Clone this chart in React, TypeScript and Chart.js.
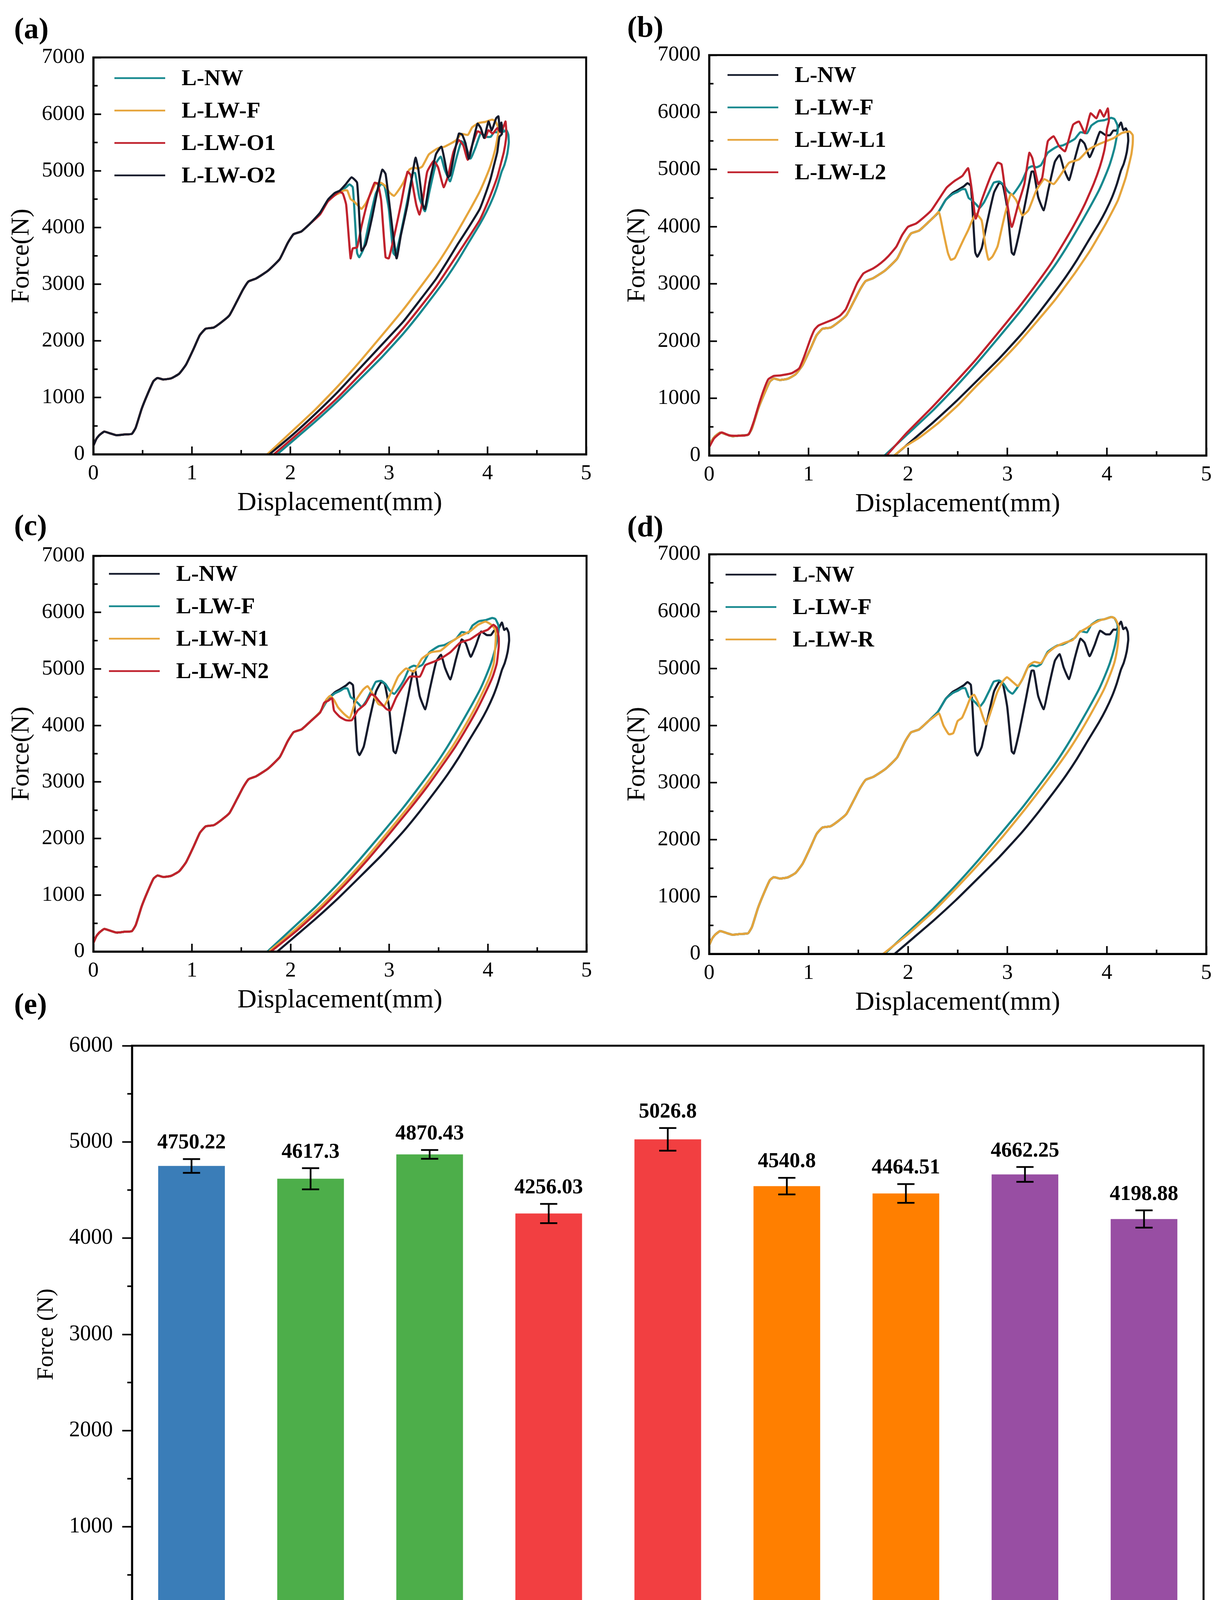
import { useEffect, useRef } from "react";
import { Chart, registerables } from "chart.js";

Chart.register(...registerables);

const SERIF = "'Liberation Serif', 'Times New Roman', serif";
const TEAL = "#17898f";
const GOLD = "#e6a53c";
const RED = "#c0222d";
const NAVY = "#151b2c";

type Pt = [number, number];

// loading branch shared by every specimen (curves overlap up to ~2.2 mm)
const LOAD_BASE: Pt[] = [
  [0, 150], [0.03, 270], [0.06, 336], [0.11, 400], [0.16, 375], [0.235, 336],
  [0.315, 350], [0.39, 360], [0.43, 470], [0.49, 800], [0.55, 1060], [0.61, 1290],
  [0.65, 1345], [0.71, 1320], [0.79, 1340], [0.87, 1420], [0.94, 1580], [1.02, 1870],
  [1.08, 2100], [1.14, 2215], [1.22, 2235], [1.3, 2330], [1.38, 2450], [1.46, 2710],
  [1.52, 2910], [1.575, 3050], [1.65, 3100], [1.77, 3235], [1.89, 3440], [1.97, 3720],
  [2.03, 3880], [2.11, 3930], [2.2, 4070],
];

const NW_TAIL: Pt[] = [
  [2.3, 4240], [2.38, 4470], [2.45, 4590], [2.5, 4640], [2.565, 4711], [2.598, 4760],
  [2.632, 4711], [2.655, 4120], [2.676, 3553], [2.698, 3476], [2.742, 3630], [2.798, 4094],
  [2.865, 4596], [2.92, 4770], [2.954, 4730], [2.998, 4325], [3.043, 3553], [3.065, 3510],
  [3.12, 3900], [3.187, 4480], [3.242, 4960], [3.265, 4960], [3.309, 4519], [3.365, 4287],
  [3.41, 4634], [3.476, 5130], [3.525, 5250], [3.565, 5020], [3.62, 4815], [3.676, 5175],
  [3.734, 5520], [3.776, 5450], [3.826, 5215], [3.876, 5406], [3.931, 5660], [3.987, 5600],
  [4.031, 5600], [4.065, 5680], [4.098, 5680], [4.142, 5820], [4.165, 5690], [4.19, 5720],
  [4.21, 5640],
];
const NW_UNLOAD: Pt[] = [
  [4.215, 5500], [4.2, 5300], [4.17, 5100], [4.142, 4982], [4.1, 4740], [4.053, 4518],
  [3.99, 4280], [3.92, 4055], [3.81, 3740], [3.7, 3420], [3.59, 3130], [3.476, 2858],
  [3.31, 2480], [3.143, 2125], [2.92, 1700], [2.698, 1314], [2.48, 940], [2.254, 580],
  [2.06, 290], [1.865, 0],
];

const F_TAIL: Pt[] = [
  [2.3, 4240], [2.38, 4470], [2.45, 4570], [2.5, 4610], [2.543, 4654], [2.576, 4654],
  [2.61, 4501], [2.642, 4462], [2.687, 4386], [2.72, 4328], [2.764, 4424], [2.819, 4616],
  [2.863, 4769], [2.918, 4789], [2.962, 4731], [3.006, 4616], [3.05, 4558], [3.095, 4654],
  [3.15, 4808], [3.205, 5019], [3.249, 5057], [3.293, 5038], [3.337, 5076], [3.403, 5287],
  [3.447, 5345], [3.503, 5403], [3.558, 5422], [3.624, 5480], [3.679, 5537], [3.734, 5652],
  [3.8, 5633], [3.844, 5767], [3.91, 5844], [3.977, 5863], [4.043, 5902], [4.076, 5882],
  [4.105, 5780],
];
const F_UNLOAD: Pt[] = [
  [4.11, 5700], [4.098, 5560], [4.075, 5360], [4.031, 5098], [3.98, 4870], [3.92, 4634],
  [3.81, 4280], [3.698, 3939], [3.59, 3625], [3.476, 3322], [3.31, 2930], [3.143, 2549],
  [2.92, 2080], [2.698, 1623], [2.48, 1200], [2.254, 793], [2.0, 380], [1.765, 0],
];

const O1_TAIL: Pt[] = [
  [2.3, 4230], [2.38, 4460], [2.45, 4570], [2.498, 4634], [2.532, 4596], [2.565, 4403],
  [2.61, 3457], [2.632, 3630], [2.676, 3650], [2.72, 4016], [2.787, 4480], [2.854, 4789],
  [2.887, 4769], [2.92, 4480], [2.965, 3476], [2.998, 3457], [3.054, 3862], [3.12, 4403],
  [3.187, 4982], [3.22, 4924], [3.276, 4403], [3.309, 4229], [3.343, 4480], [3.387, 4982],
  [3.454, 5175], [3.498, 5059], [3.554, 4712], [3.598, 4905], [3.653, 5329], [3.709, 5542],
  [3.754, 5445], [3.798, 5194], [3.842, 5445], [3.898, 5696], [3.942, 5657], [3.975, 5580],
  [4.009, 5715], [4.053, 5657], [4.098, 5754], [4.131, 5677], [4.165, 5792], [4.182, 5870],
  [4.19, 5680],
];
const O1_UNLOAD: Pt[] = [
  [4.187, 5561], [4.165, 5330], [4.142, 5175], [4.1, 4900], [4.053, 4673], [3.99, 4400],
  [3.92, 4132], [3.81, 3830], [3.7, 3540], [3.59, 3250], [3.476, 2955], [3.31, 2580],
  [3.143, 2221], [2.92, 1790], [2.698, 1391], [2.48, 1000], [2.254, 638], [2.04, 310],
  [1.832, 0],
];

const O2_TAIL: Pt[] = [
  [2.3, 4260], [2.38, 4490], [2.45, 4610], [2.5, 4650], [2.56, 4760], [2.62, 4885],
  [2.676, 4789], [2.72, 3592], [2.765, 3708], [2.832, 4210], [2.898, 4789], [2.932, 5020],
  [2.965, 4943], [3.01, 4325], [3.076, 3457], [3.12, 3862], [3.187, 4403], [3.242, 4982],
  [3.269, 5233], [3.298, 5020], [3.343, 4403], [3.365, 4325], [3.41, 4789], [3.476, 5291],
  [3.531, 5426], [3.565, 5175], [3.598, 4885], [3.62, 4924], [3.665, 5329], [3.709, 5657],
  [3.742, 5638], [3.776, 5484], [3.81, 5213], [3.853, 5522], [3.898, 5831], [3.931, 5754],
  [3.965, 5580], [4.009, 5870], [4.042, 5715], [4.087, 5928], [4.11, 5960], [4.125, 5700],
  [4.14, 5850], [4.145, 5650],
];
const O2_UNLOAD: Pt[] = [
  [4.12, 5600], [4.098, 5329], [4.065, 5100], [4.031, 4866], [3.98, 4600], [3.92, 4325],
  [3.81, 4010], [3.698, 3708], [3.59, 3400], [3.476, 3090], [3.31, 2710], [3.143, 2337],
  [2.92, 1920], [2.698, 1507], [2.48, 1100], [2.254, 715], [2.02, 340], [1.787, 0],
];

const L1_TAIL: Pt[] = [
  [2.25, 4150], [2.31, 4256], [2.35, 3950], [2.4, 3550], [2.43, 3422], [2.47, 3450],
  [2.51, 3594], [2.56, 3780], [2.605, 3939], [2.68, 4227], [2.74, 4112], [2.775, 3700],
  [2.81, 3422], [2.85, 3480], [2.9, 3652], [2.94, 3950], [2.977, 4227], [3.035, 4572],
  [3.09, 4457], [3.15, 4198], [3.21, 4284], [3.29, 4630], [3.37, 4831], [3.465, 4745],
  [3.54, 4917], [3.62, 5118], [3.72, 5176], [3.816, 5348], [3.91, 5435], [3.99, 5492],
  [4.07, 5550], [4.15, 5636], [4.227, 5665], [4.26, 5600],
];
const L1_UNLOAD: Pt[] = [
  [4.26, 5450], [4.246, 5262], [4.19, 4860], [4.11, 4457], [3.99, 4054], [3.836, 3594],
  [3.68, 3192], [3.484, 2732], [3.29, 2329], [3.09, 1927], [2.9, 1582], [2.7, 1236],
  [2.51, 891], [2.31, 575], [2.117, 316], [1.96, 144], [1.863, 0],
];

// L-LW-L2 sits a little above the others from the start
const L2_LOAD: Pt[] = [
  [0, 144], [0.05, 300], [0.125, 403], [0.2, 350], [0.28, 345], [0.36, 350], [0.4, 374],
  [0.45, 600], [0.5, 891], [0.55, 1150], [0.594, 1330], [0.65, 1390], [0.72, 1400],
  [0.83, 1438], [0.906, 1524], [0.96, 1750], [1.02, 2042], [1.06, 2200], [1.1, 2272],
  [1.18, 2330], [1.258, 2387], [1.32, 2450], [1.375, 2559], [1.43, 2780], [1.49, 3019],
  [1.55, 3180], [1.59, 3221], [1.65, 3270], [1.727, 3364], [1.8, 3480], [1.883, 3652],
  [1.94, 3850], [2.0, 3997], [2.08, 4054], [2.15, 4150], [2.234, 4284], [2.31, 4480],
  [2.39, 4687], [2.47, 4802], [2.547, 4888], [2.605, 5021],
];
const L2_TAIL: Pt[] = [
  [2.645, 4600], [2.68, 4141], [2.74, 4457], [2.84, 4917], [2.9, 5118], [2.94, 5090],
  [2.98, 4600], [3.043, 3997], [3.11, 4400], [3.17, 4745], [3.22, 5291], [3.25, 5200],
  [3.31, 4745], [3.35, 4860], [3.406, 5492], [3.465, 5579], [3.52, 5406], [3.58, 5320],
  [3.66, 5780], [3.72, 5837], [3.78, 5636], [3.836, 5981], [3.895, 5895], [3.93, 6039],
  [3.97, 5924], [4.01, 6067], [4.02, 5850],
];
const L2_UNLOAD: Pt[] = [
  [4.0, 5700], [3.99, 5500], [3.97, 5300], [3.93, 5050], [3.87, 4760], [3.78, 4400],
  [3.67, 4030], [3.56, 3700], [3.44, 3360], [3.28, 2970], [3.11, 2580], [2.89, 2110],
  [2.67, 1650], [2.45, 1230], [2.23, 820], [1.99, 400], [1.785, 0],
];

const N1_TAIL: Pt[] = [
  [2.3, 4240], [2.36, 4450], [2.4, 4522], [2.44, 4450], [2.48, 4322], [2.54, 4207],
  [2.6, 4130], [2.66, 4436], [2.736, 4636], [2.78, 4694], [2.835, 4551], [2.89, 4379],
  [2.95, 4350], [3.01, 4551], [3.09, 4865], [3.17, 5008], [3.25, 4951], [3.33, 5180],
  [3.425, 5295], [3.52, 5323], [3.62, 5466], [3.72, 5581], [3.82, 5667], [3.9, 5781],
  [3.976, 5838], [4.035, 5781], [4.075, 5695],
];
const N1_UNLOAD: Pt[] = [
  [4.08, 5550], [4.075, 5400], [4.06, 5098], [4.02, 4870], [3.96, 4634], [3.86, 4280],
  [3.75, 3939], [3.64, 3625], [3.52, 3322], [3.36, 2930], [3.19, 2549], [2.97, 2080],
  [2.75, 1623], [2.53, 1200], [2.3, 793], [2.04, 380], [1.78, 0],
];

const N2_TAIL: Pt[] = [
  [2.3, 4230], [2.34, 4400], [2.38, 4436], [2.42, 4480], [2.44, 4265], [2.5, 4150],
  [2.56, 4093], [2.62, 4093], [2.68, 4265], [2.756, 4379], [2.815, 4551], [2.854, 4522],
  [2.894, 4436], [2.97, 4293], [3.01, 4265], [3.07, 4494], [3.15, 4722], [3.21, 4865],
  [3.31, 4865], [3.366, 5066], [3.445, 5123], [3.52, 5180], [3.62, 5295], [3.72, 5466],
  [3.82, 5524], [3.92, 5638], [4.0, 5695], [4.055, 5781], [4.09, 5724],
];
const N2_UNLOAD: Pt[] = [
  [4.11, 5550], [4.11, 5400], [4.09, 5098], [4.05, 4870], [3.99, 4634], [3.89, 4280],
  [3.78, 3939], [3.67, 3625], [3.55, 3322], [3.39, 2930], [3.22, 2549], [3.0, 2080],
  [2.78, 1623], [2.56, 1200], [2.33, 793], [2.07, 380], [1.8, 0],
];

const R_TAIL: Pt[] = [
  [2.26, 4150], [2.312, 4213], [2.356, 4002], [2.411, 3848], [2.455, 3868], [2.499, 4079],
  [2.543, 4136], [2.587, 4309], [2.632, 4501], [2.665, 4539], [2.709, 4386], [2.753, 4155],
  [2.786, 4021], [2.83, 4232], [2.896, 4578], [2.951, 4769], [2.995, 4846], [3.05, 4769],
  [3.106, 4693], [3.161, 4846], [3.216, 5057], [3.271, 5115], [3.337, 5096], [3.403, 5268],
  [3.47, 5364], [3.536, 5422], [3.591, 5460], [3.657, 5499], [3.723, 5633], [3.8, 5710],
  [3.866, 5786], [3.933, 5844], [3.999, 5875], [4.054, 5902], [4.087, 5863], [4.12, 5729],
];
const R_UNLOAD: Pt[] = [
  [4.115, 5500], [4.1, 5300], [4.075, 5100], [4.03, 4880], [3.97, 4630], [3.86, 4270],
  [3.745, 3920], [3.63, 3600], [3.51, 3300], [3.34, 2900], [3.17, 2520], [2.95, 2050],
  [2.72, 1590], [2.5, 1180], [2.27, 770], [2.01, 360], [1.75, 0],
];

const L_NW = [...LOAD_BASE, ...NW_TAIL, ...NW_UNLOAD];
const L_LW_F = [...LOAD_BASE, ...F_TAIL, ...F_UNLOAD];
const L_LW_O1 = [...LOAD_BASE, ...O1_TAIL, ...O1_UNLOAD];
const L_LW_O2 = [...LOAD_BASE, ...O2_TAIL, ...O2_UNLOAD];
const L_LW_L1 = [...LOAD_BASE, ...L1_TAIL, ...L1_UNLOAD];
const L_LW_L2 = [...L2_LOAD, ...L2_TAIL, ...L2_UNLOAD];
const L_LW_N1 = [...LOAD_BASE, ...N1_TAIL, ...N1_UNLOAD];
const L_LW_N2 = [...LOAD_BASE, ...N2_TAIL, ...N2_UNLOAD];
const L_LW_R = [...LOAD_BASE, ...R_TAIL, ...R_UNLOAD];

// panel (e)
const BAR_LABELS = ["L-NW", "L-LW-O1", "L-LW-O2", "L-LW-L1", "L-LW-L2", "L-LW-N1", "L-LW-N2", "L-LW-F", "L-LW-R"];
const BAR_MEANS = [4750.22, 4617.3, 4870.43, 4256.03, 5026.8, 4540.8, 4464.51, 4662.25, 4198.88];
const BAR_ERRORS = [72, 110, 46, 100, 118, 86, 97, 77, 90];
const BAR_COLORS = ["#3a7db8", "#4dae4a", "#4dae4a", "#f23f41", "#f23f41", "#ff7f00", "#ff7f00", "#984ea3", "#984ea3"];

interface Series {
  label: string;
  color: string;
  points: Pt[];
}
interface Box {
  l: number;
  t: number;
  r: number;
  b: number;
}
interface LegendPos {
  left: number;
  top: number;
}

// room around the plot box; Chart.js reserves tick padding + half a label at the ends
const Y_AXIS_W = 240;
const X_AXIS_H = 170;
const PAD_T = 80;
const PAD_R = 55;

const plainNumber = (v: any) => String(v);

// closes the plot box (top + right edges)
const framePlugin = {
  id: "frame",
  afterDraw(chart: any, _args: any, opts: any) {
    const { ctx, chartArea: a } = chart;
    ctx.save();
    ctx.strokeStyle = "#000";
    ctx.lineWidth = opts.width ?? 5;
    ctx.strokeRect(a.left, a.top, a.right - a.left, a.bottom - a.top);
    ctx.restore();
  },
};

// short ticks halfway between the major ones
const minorTicksPlugin = {
  id: "minorTicks",
  afterDraw(chart: any, _args: any, opts: any) {
    const { ctx, chartArea: a, scales } = chart;
    const dir = opts.inward ? -1 : 1;
    const xs = scales.x;
    const ys = scales.y;
    const xMarks: number[] = [];
    if (xs.type === "category") {
      const half = (xs.getPixelForValue(1) - xs.getPixelForValue(0)) / 2;
      for (let i = 0; i <= xs.ticks.length; i++) {
        xMarks.push(xs.getPixelForValue(0) - half + i * 2 * half);
      }
    } else {
      for (let i = 0; i < xs.ticks.length - 1; i++) {
        xMarks.push(xs.getPixelForValue((xs.ticks[i].value + xs.ticks[i + 1].value) / 2));
      }
    }
    ctx.save();
    ctx.strokeStyle = "#000";
    ctx.lineWidth = 4;
    ctx.beginPath();
    xMarks.forEach((px) => {
      ctx.moveTo(px, a.bottom);
      ctx.lineTo(px, a.bottom + dir * opts.x);
    });
    for (let i = 0; i < ys.ticks.length - 1; i++) {
      const py = ys.getPixelForValue((ys.ticks[i].value + ys.ticks[i + 1].value) / 2);
      ctx.moveTo(a.left, py);
      ctx.lineTo(a.left - dir * opts.y, py);
    }
    ctx.stroke();
    ctx.restore();
  },
};

// legend drawn inside the plot, top-left, like the Origin export
const insetLegendPlugin = {
  id: "insetLegend",
  afterDraw(chart: any, _args: any, opts: any) {
    const { ctx, chartArea: a } = chart;
    ctx.save();
    ctx.font = `bold 58px ${SERIF}`;
    ctx.textAlign = "left";
    ctx.textBaseline = "middle";
    chart.data.datasets.forEach((ds: any, i: number) => {
      const y = a.top + opts.top + i * 83;
      const x0 = a.left + opts.left;
      ctx.strokeStyle = ds.borderColor;
      ctx.lineWidth = 4.5;
      ctx.beginPath();
      ctx.moveTo(x0, y);
      ctx.lineTo(x0 + 130, y);
      ctx.stroke();
      ctx.fillStyle = "#000";
      ctx.fillText(ds.label, x0 + 172, y + 3);
    });
    ctx.restore();
  },
};

// error bars and value labels for panel (e)
const barAnnotationPlugin = {
  id: "barAnnotations",
  afterDatasetsDraw(chart: any) {
    const { ctx } = chart;
    const y = chart.scales.y;
    const meta = chart.getDatasetMeta(0);
    ctx.save();
    meta.data.forEach((bar: any, i: number) => {
      const hi = y.getPixelForValue(BAR_MEANS[i] + BAR_ERRORS[i]);
      const lo = y.getPixelForValue(BAR_MEANS[i] - BAR_ERRORS[i]);
      ctx.strokeStyle = "#000";
      ctx.lineWidth = 4.5;
      ctx.beginPath();
      ctx.moveTo(bar.x, hi);
      ctx.lineTo(bar.x, lo);
      ctx.moveTo(bar.x - 22, hi);
      ctx.lineTo(bar.x + 22, hi);
      ctx.moveTo(bar.x - 22, lo);
      ctx.lineTo(bar.x + 22, lo);
      ctx.stroke();
      ctx.fillStyle = "#000";
      ctx.font = `bold 54px ${SERIF}`;
      ctx.textAlign = "center";
      ctx.textBaseline = "alphabetic";
      ctx.fillText(String(BAR_MEANS[i]), bar.x, hi - 27);
    });
    ctx.restore();
  },
};

function lineConfig(series: Series[], legend: LegendPos) {
  const n = series.length;
  return {
    type: "line",
    data: {
      datasets: series.map((s, i) => ({
        label: s.label,
        data: s.points.map(([x, y]) => ({ x, y })),
        borderColor: s.color,
        backgroundColor: s.color,
        borderWidth: 5.5,
        pointRadius: 0,
        pointHoverRadius: 0,
        tension: 0.15,
        fill: false,
        // later specimens are drawn on top, as in the original plots
        order: n - 1 - i,
      })),
    },
    options: {
      responsive: false,
      animation: false,
      layout: { padding: { top: PAD_T, right: PAD_R, left: 0, bottom: 0 } },
      plugins: {
        legend: { display: false },
        tooltip: { enabled: false },
        frame: { width: 5 },
        minorTicks: { inward: true, x: 11, y: 11 },
        insetLegend: legend,
      },
      scales: {
        x: {
          type: "linear",
          min: 0,
          max: 5,
          ticks: {
            stepSize: 1,
            color: "#000",
            padding: 37,
            maxRotation: 0,
            autoSkip: false,
            callback: plainNumber,
            font: { family: SERIF, size: 55 },
          },
          grid: { drawOnChartArea: false, tickLength: -20, tickWidth: 4, tickColor: "#000" },
          border: { display: true, color: "#000", width: 5 },
          title: {
            display: true,
            text: "Displacement(mm)",
            color: "#000",
            font: { family: SERIF, size: 68 },
            padding: { top: 0, bottom: 4 },
          },
          afterFit: (s: any) => {
            s.height = X_AXIS_H;
          },
        },
        y: {
          min: 0,
          max: 7000,
          ticks: {
            stepSize: 1000,
            color: "#000",
            padding: 42,
            callback: plainNumber,
            font: { family: SERIF, size: 55 },
          },
          grid: { drawOnChartArea: false, tickLength: -20, tickWidth: 4, tickColor: "#000" },
          border: { display: true, color: "#000", width: 5 },
          title: {
            display: true,
            text: "Force(N)",
            color: "#000",
            font: { family: SERIF, size: 66 },
            padding: { top: 17, bottom: 0 },
          },
          afterFit: (s: any) => {
            s.width = Y_AXIS_W;
          },
        },
      },
    },
    plugins: [framePlugin, minorTicksPlugin, insetLegendPlugin],
  };
}

function LineChart({ box, series, legend }: { box: Box; series: Series[]; legend: LegendPos }) {
  const canvasRef = useRef<HTMLCanvasElement | null>(null);
  const width = box.r - box.l + Y_AXIS_W + PAD_R;
  const height = box.b - box.t + PAD_T + X_AXIS_H;

  useEffect(() => {
    if (!canvasRef.current) return;
    const chart = new Chart(canvasRef.current, lineConfig(series, legend) as any);
    return () => chart.destroy();
  }, [series, legend]);

  return (
    <canvas
      ref={canvasRef}
      width={width}
      height={height}
      style={{ position: "absolute", left: box.l - Y_AXIS_W, top: box.t - PAD_T, width, height }}
    />
  );
}

const BAR_BOX: Box = { l: 338, t: 2677, r: 3082, b: 4155 };
const BAR_X_H = 120;
const BAR_PAD_T = 62;
const BAR_PAD_R = 30;

function BarChart() {
  const canvasRef = useRef<HTMLCanvasElement | null>(null);
  const width = BAR_BOX.r + BAR_PAD_R;
  const height = BAR_BOX.b - BAR_BOX.t + BAR_PAD_T + BAR_X_H;

  useEffect(() => {
    if (!canvasRef.current) return;
    const chart = new Chart(canvasRef.current, {
      type: "bar",
      data: {
        labels: BAR_LABELS,
        datasets: [
          {
            data: BAR_MEANS,
            backgroundColor: BAR_COLORS,
            borderWidth: 0,
            barPercentage: 0.56,
            categoryPercentage: 1,
          },
        ],
      },
      options: {
        responsive: false,
        animation: false,
        layout: { padding: { top: BAR_PAD_T, right: BAR_PAD_R, left: 0, bottom: 0 } },
        plugins: {
          legend: { display: false },
          tooltip: { enabled: false },
          frame: { width: 5 },
          minorTicks: { inward: false, x: 13, y: 12 },
        },
        scales: {
          x: {
            ticks: {
              color: "#000",
              padding: 17,
              autoSkip: false,
              maxRotation: 0,
              font: { family: SERIF, size: 60 },
            },
            grid: { drawOnChartArea: false, offset: false, tickLength: 27, tickWidth: 4, tickColor: "#000" },
            border: { display: true, color: "#000", width: 5 },
            afterFit: (s: any) => {
              s.height = BAR_X_H;
            },
          },
          y: {
            min: 0,
            max: 6000,
            ticks: {
              stepSize: 1000,
              color: "#000",
              padding: 24,
              callback: plainNumber,
              font: { family: SERIF, size: 56 },
            },
            grid: { drawOnChartArea: false, tickLength: 25, tickWidth: 4, tickColor: "#000" },
            border: { display: true, color: "#000", width: 5 },
            title: {
              display: true,
              text: "Force (N)",
              color: "#000",
              font: { family: SERIF, size: 60 },
              padding: { top: 83, bottom: 0 },
            },
            afterFit: (s: any) => {
              s.width = BAR_BOX.l;
            },
          },
        },
      } as any,
      plugins: [framePlugin, minorTicksPlugin, barAnnotationPlugin],
    });
    return () => chart.destroy();
  }, []);

  return (
    <canvas
      ref={canvasRef}
      width={width}
      height={height}
      style={{ position: "absolute", left: 0, top: BAR_BOX.t - BAR_PAD_T, width, height }}
    />
  );
}

const PANEL_A: Series[] = [
  { label: "L-NW", color: TEAL, points: L_NW },
  { label: "L-LW-F", color: GOLD, points: L_LW_F },
  { label: "L-LW-O1", color: RED, points: L_LW_O1 },
  { label: "L-LW-O2", color: NAVY, points: L_LW_O2 },
];
const PANEL_B: Series[] = [
  { label: "L-NW", color: NAVY, points: L_NW },
  { label: "L-LW-F", color: TEAL, points: L_LW_F },
  { label: "L-LW-L1", color: GOLD, points: L_LW_L1 },
  { label: "L-LW-L2", color: RED, points: L_LW_L2 },
];
const PANEL_C: Series[] = [
  { label: "L-NW", color: NAVY, points: L_NW },
  { label: "L-LW-F", color: TEAL, points: L_LW_F },
  { label: "L-LW-N1", color: GOLD, points: L_LW_N1 },
  { label: "L-LW-N2", color: RED, points: L_LW_N2 },
];
const PANEL_D: Series[] = [
  { label: "L-NW", color: NAVY, points: L_NW },
  { label: "L-LW-F", color: TEAL, points: L_LW_F },
  { label: "L-LW-R", color: GOLD, points: L_LW_R },
];

const LEGEND_A: LegendPos = { left: 54, top: 53 };
const LEGEND_B: LegendPos = { left: 47, top: 51 };
const LEGEND_C: LegendPos = { left: 40, top: 46 };
const LEGEND_D: LegendPos = { left: 42, top: 52 };

const tagStyle = (left: number, top: number): React.CSSProperties => ({
  position: "absolute",
  left,
  top,
  fontFamily: SERIF,
  fontWeight: "bold",
  fontSize: 76,
  lineHeight: "76px",
  color: "#000",
});

export default function App() {
  return (
    <div
      style={{
        position: "absolute",
        left: 0,
        top: 0,
        width: 3119,
        height: 4282,
        background: "#fff",
        overflow: "hidden",
      }}
    >
      <div style={tagStyle(36, 34)}>(a)</div>
      <div style={tagStyle(1606, 30)}>(b)</div>
      <div style={tagStyle(36, 1306)}>(c)</div>
      <div style={tagStyle(1606, 1309)}>(d)</div>
      <div style={tagStyle(36, 2531)}>(e)</div>
      <LineChart box={{ l: 239, t: 147, r: 1501, b: 1163 }} series={PANEL_A} legend={LEGEND_A} />
      <LineChart box={{ l: 1816, t: 141, r: 3089, b: 1166 }} series={PANEL_B} legend={LEGEND_B} />
      <LineChart box={{ l: 239, t: 1423, r: 1502, b: 2436 }} series={PANEL_C} legend={LEGEND_C} />
      <LineChart box={{ l: 1816, t: 1419, r: 3089, b: 2442 }} series={PANEL_D} legend={LEGEND_D} />
      <BarChart />
    </div>
  );
}
